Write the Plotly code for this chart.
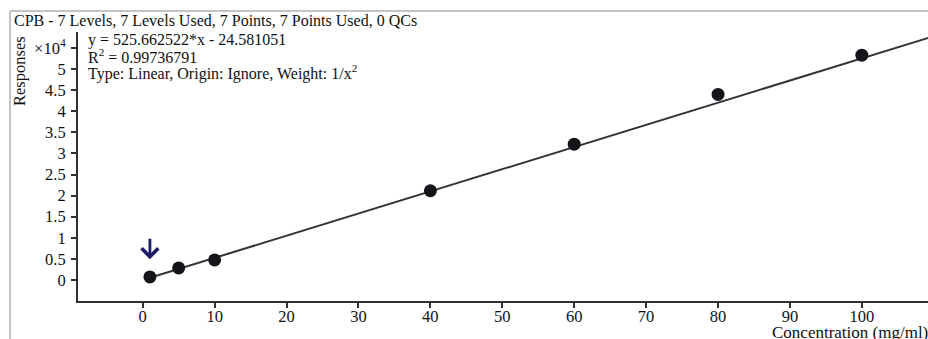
import plotly.graph_objects as go

# Calibration standards
concentration = [1, 5, 10, 40, 60, 80, 100]
response = [700, 2850, 4740, 21150, 32200, 44000, 53300]

# Regression parameters reported for the curve
slope = 525.662522
intercept = -24.581051

x_range = [-9.0, 109.2]
y_range = [-5000, 58800]

x_ticks = [0, 10, 20, 30, 40, 50, 60, 70, 80, 90, 100]
y_tick_vals = [0, 5000, 10000, 15000, 20000, 25000, 30000, 35000,
               40000, 45000, 50000, 55000]
y_tick_text = ["0", "0.5", "1", "1.5", "2", "2.5", "3", "3.5",
               "4", "4.5", "5", "×10<sup>4</sup>"]

title_text = "CPB - 7 Levels, 7 Levels Used, 7 Points, 7 Points Used, 0 QCs"
equation_lines = [
    "y = 525.662522*x - 24.581051",
    "R<sup>2</sup> = 0.99736791",
    "Type: Linear, Origin: Ignore, Weight: 1/x<sup>2</sup>",
]

FONT = "Liberation Serif, Times New Roman, serif"
AXIS = "#2f3033"

W, H = 928, 339
ML, MR, MT, MB = 78, 0, 32, 38
PW, PH = W - ML - MR, H - MT - MB


def px_x(p):
    return (p - ML) / PW


def px_y(p):
    return 1 - (p - MT) / PH


fit_x = [concentration[0], x_range[1] + 1]
fit_y = [slope * v + intercept for v in fit_x]

fig = go.Figure()
fig.add_trace(go.Scatter(
    x=fit_x, y=fit_y, mode="lines",
    line=dict(color="#333438", width=2), hoverinfo="skip", showlegend=False,
))
fig.add_trace(go.Scatter(
    x=concentration, y=response, mode="markers",
    marker=dict(color="#141518", size=13, symbol="circle"),
    showlegend=False,
))

annotations = [
    dict(text=title_text, xref="paper", yref="paper", x=px_x(12), y=px_y(20),
         xanchor="left", yanchor="middle", showarrow=False,
         font=dict(family=FONT, size=16, color="#111")),
    dict(text="Responses", xref="paper", yref="paper", x=px_x(19), y=px_y(71),
         xanchor="center", yanchor="middle", textangle=-90, showarrow=False,
         font=dict(family=FONT, size=16.5, color="#111")),
    dict(text="Concentration (mg/ml)", xref="paper", yref="paper",
         x=px_x(930), y=px_y(332), xanchor="right", yanchor="middle",
         showarrow=False, font=dict(family=FONT, size=17, color="#111")),
    # marker arrow over the lowest standard
    dict(text="", x=concentration[0], y=4900, xref="x", yref="y",
         showarrow=True, arrowhead=4, arrowsize=1.15, arrowwidth=2.8,
         arrowcolor="#1c1c66", ax=0, ay=-22, standoff=0),
]
for i, line in enumerate(equation_lines):
    annotations.append(dict(
        text=line, xref="paper", yref="paper", x=px_x(86),
        y=px_y([40, 56, 72][i]), xanchor="left", yanchor="middle",
        showarrow=False, font=dict(family=FONT, size=16, color="#111")))

shapes = [
    dict(type="line", xref="paper", yref="paper", x0=px_x(10), x1=px_x(930),
         y0=px_y(11), y1=px_y(11), line=dict(color="#c4c4c4", width=2)),
    dict(type="line", xref="paper", yref="paper", x0=px_x(10), x1=px_x(10),
         y0=px_y(11), y1=px_y(345), line=dict(color="#c4c4c4", width=2)),
]

fig.update_layout(
    width=W, height=H,
    margin=dict(l=ML, r=MR, t=MT, b=MB),
    paper_bgcolor="white", plot_bgcolor="white",
    font=dict(family=FONT, size=16, color="#111"),
    annotations=annotations, shapes=shapes,
    xaxis=dict(range=x_range, tickvals=x_ticks, showgrid=False, zeroline=False,
               showline=True, linecolor=AXIS, linewidth=2,
               ticks="outside", ticklen=5, tickwidth=2, tickcolor=AXIS,
               ticklabelstandoff=-6,
               tickfont=dict(family=FONT, size=16.5, color="#111")),
    yaxis=dict(range=y_range, tickvals=y_tick_vals, ticktext=y_tick_text,
               showgrid=False, zeroline=False, showline=True, linecolor=AXIS,
               linewidth=2, ticks="outside", ticklen=5, tickwidth=2,
               tickcolor=AXIS, ticklabelstandoff=2,
               tickfont=dict(family=FONT, size=16.5, color="#111")),
)

fig.write_html("out.html")
